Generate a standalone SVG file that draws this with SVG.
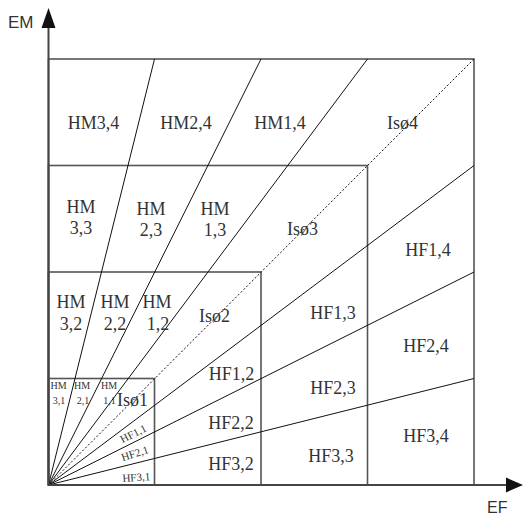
<svg xmlns="http://www.w3.org/2000/svg" width="523" height="518" viewBox="0 0 523 518">
<style>
.ax{stroke:#444;stroke-width:2;fill:none}
.box{stroke:#555;stroke-width:1.6;fill:none}
.ray{stroke:#111;stroke-width:1;fill:none}
.dot{stroke:#111;stroke-width:1;stroke-dasharray:2,2;fill:none}
.lbl{font-family:"Liberation Serif","Times New Roman",serif;font-size:18px;fill:#333;text-anchor:middle}
.sm{font-family:"Liberation Serif","Times New Roman",serif;font-size:10px;fill:#333;text-anchor:middle}
.hf{font-family:"Liberation Serif","Times New Roman",serif;font-size:11px;fill:#333;text-anchor:middle}
.axl{font-family:"Liberation Sans",Arial,sans-serif;fill:#333}
</style>
<rect width="523" height="518" fill="#fff"/>
<g id="connectors">
<rect class="box" x="48.5" y="59" width="425.5" height="426"/>
<rect class="box" x="48.5" y="165.5" width="319" height="319.5"/>
<rect class="box" x="48.5" y="272" width="212.5" height="213"/>
<rect class="box" x="48.5" y="378.5" width="106" height="106.5"/>
<line class="ray" x1="48.5" y1="485" x2="154.5" y2="59"/>
<line class="ray" x1="48.5" y1="485" x2="261" y2="59"/>
<line class="ray" x1="48.5" y1="485" x2="367.5" y2="59"/>
<line class="dot" x1="48.5" y1="485" x2="474" y2="59"/>
<line class="ray" x1="48.5" y1="485" x2="474" y2="165.5"/>
<line class="ray" x1="48.5" y1="485" x2="474" y2="272"/>
<line class="ray" x1="48.5" y1="485" x2="474" y2="378.5"/>
</g>
<g id="axes">
<line class="ax" x1="48.5" y1="485" x2="48.5" y2="26"/>
<polygon points="48.5,8 41.5,28 55.5,28" fill="#111"/>
<line class="ax" x1="48.5" y1="485" x2="508" y2="485"/>
<polygon points="523,485 506,477.5 506,492.5" fill="#111"/>
<text class="axl" x="8" y="28" font-size="17">EM</text>
<text class="axl" x="487" y="513" font-size="16">EF</text>
</g>
<g id="row4">
<text class="lbl" x="93.5" y="128.5">HM3,4</text>
<text class="lbl" x="186" y="128.5">HM2,4</text>
<text class="lbl" x="280" y="128.5">HM1,4</text>
<text class="lbl" x="402.5" y="128.5">Isø4</text>
<text class="lbl" x="428" y="256">HF1,4</text>
<text class="lbl" x="426" y="352">HF2,4</text>
<text class="lbl" x="426" y="442">HF3,4</text>
</g>
<g id="row3">
<text class="lbl" x="81" y="213">HM</text>
<text class="lbl" x="81" y="234">3,3</text>
<text class="lbl" x="151" y="215">HM</text>
<text class="lbl" x="151" y="236">2,3</text>
<text class="lbl" x="215" y="215">HM</text>
<text class="lbl" x="215" y="236">1,3</text>
<text class="lbl" x="302.5" y="235">Isø3</text>
<text class="lbl" x="333" y="318.5">HF1,3</text>
<text class="lbl" x="333" y="393.5">HF2,3</text>
<text class="lbl" x="331" y="462">HF3,3</text>
</g>
<g id="row2">
<text class="lbl" x="71" y="308">HM</text>
<text class="lbl" x="71" y="330">3,2</text>
<text class="lbl" x="115" y="308">HM</text>
<text class="lbl" x="115" y="330">2,2</text>
<text class="lbl" x="157" y="308">HM</text>
<text class="lbl" x="158" y="330">1,2</text>
<text class="lbl" x="214.5" y="322">Isø2</text>
<text class="lbl" x="231.5" y="379.5">HF1,2</text>
<text class="lbl" x="231" y="429">HF2,2</text>
<text class="lbl" x="231" y="469.5">HF3,2</text>
</g>
<g id="row1">
<text class="sm" x="58.5" y="389">HM</text>
<text class="sm" x="59" y="404">3,1</text>
<text class="sm" x="82" y="389">HM</text>
<text class="sm" x="83" y="404">2,1</text>
<text class="sm" x="109" y="389">HM</text>
<text class="sm" x="109.5" y="404">1,1</text>
<text class="lbl" x="132.5" y="406" font-size="16.5">Isø1</text>
<text class="hf" transform="translate(135,437) rotate(-27)">HF1,1</text>
<text class="hf" transform="translate(136,457) rotate(-18)">HF2,1</text>
<text class="hf" transform="translate(136.5,481) rotate(-4)">HF3,1</text>
</g>
</svg>
